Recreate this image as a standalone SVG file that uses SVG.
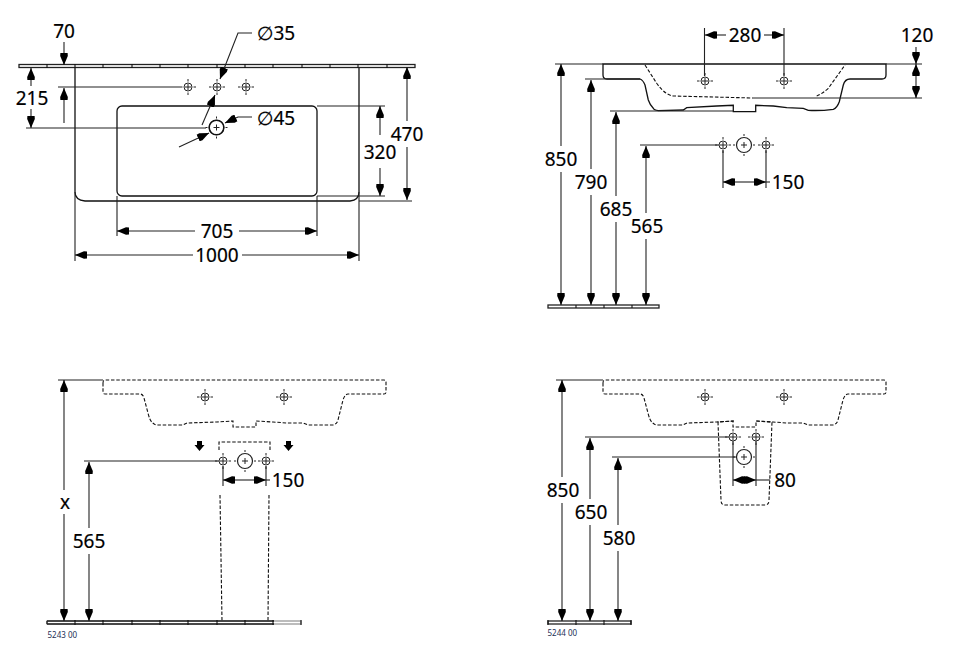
<svg xmlns="http://www.w3.org/2000/svg" width="966" height="657" viewBox="0 0 966 657">
<style>
text{font-family:"Noto Sans","DejaVu Sans",sans-serif;font-size:19px;fill:#000;text-anchor:middle;dominant-baseline:central;stroke:#000;stroke-width:.2}
.o{fill:none;stroke:#111;stroke-width:1.3}
.d{fill:none;stroke:#111;stroke-width:1.1;stroke-dasharray:3.5 1.8}
.l{fill:none;stroke:#222;stroke-width:1.1}
.a{fill:none;stroke:#222;stroke-width:1.1;marker-end:url(#ah)}
.s{fill:#fff;stroke:#222;stroke-width:1.3}
.t{fill:none;stroke:#111;stroke-width:1.1}
.h{fill:none;stroke:#222;stroke-width:1}
text.c{font-size:8px;fill:#1c2f55;stroke:none;text-anchor:start}
</style>
<defs>
<marker id="ah" markerUnits="userSpaceOnUse" markerWidth="14" markerHeight="10" refX="12" refY="5" orient="auto"><path d="M0 1.400L3 1.200L12 5L3 8.800L0 8.600Z" fill="#000"/></marker>
<g id="hs" class="h"><circle r="4"/><path d="M-8 0H-5.500M-3 0H3M5.500 0H8M0-8V-5.500M0-3V3M0 5.500V8"/></g>
<g id="hb" class="h"><circle r="7.500" stroke-width="1.200"/><path d="M-11 0H-9M-3 0H3M9 0H11M0-11V-9M0-3V3M0 9V11"/></g>
<path id="bowl" d="M103 383V392Q103 394 105 394H140Q143 394 144 398L148 413Q150 421 152 422Q154 425 157 425H183L187 423L217 422L233 421V427H256V421L273 422L287 423L303 423L308 425H333Q337 424 338 420L343 400Q345 394 348 394H384Q386 394 386 392V382Q386 380 384 380H105Q103 380 103 383Z"/>
</defs>
<g id="view-top">
<path class="o" d="M75 66V192Q75 200 85 201H350Q359 200 359 192V66"/>
<rect class="o" x="117" y="106" width="200" height="90" rx="5"/>
<rect class="s" x="19" y="64.500" width="396" height="3"/>
<path class="t" d="M47 64V68M75 64V68M103 64V68M132 64V68M160 64V68M188 64V68M217 64V68M245 64V68M273 64V68M302 64V68M330 64V68M358 64V68M387 64V68"/>
<use href="#hs" x="188" y="87"/><use href="#hs" x="217" y="87"/><use href="#hs" x="246" y="87"/>
<use href="#hb" x="216.500" y="127.500"/>
<circle class="o" cx="216.500" cy="127.500" r="7.200" stroke-width="1.600"/>
</g>
<g id="view-side">
<path class="o" d="M603 64H886V75Q886 79 882 79H850Q845 79 843.300 85L839.300 101.700Q837 108 833.300 109.300Q820 111 808.300 110.300L803.300 108.300L786.700 107.700L773.300 106L755.700 105.300V111.700H733.300V105.300L716.700 106L686.700 107.700L683.300 110L658.300 110.700Q654 110 653.300 108.300Q650 105 648.300 100L645 85Q643 80 640 79H607Q603 79 603 75Z"/>
<path class="d" d="M645 65L656.700 83.300Q665 95 673.300 96L753 98M816.700 96Q822 94 828.300 88.300L845 65"/>
<rect class="s" x="548" y="305" width="111" height="3"/>
<path class="t" d="M576 305V308M604 305V308M632 305V308"/>
<use href="#hs" x="705" y="81"/><use href="#hs" x="784" y="81"/>
<use href="#hs" x="723" y="145"/><use href="#hb" x="744" y="145"/><use href="#hs" x="766" y="145"/>
</g>
<g id="view-pedestal">
<use href="#bowl" class="d"/>
<path class="d" d="M219 450V442H270V450M220 495L222 621M269 495L268 621"/>
<path d="M197 441H202V445H204.500L199.500 451L194.500 445H197ZM286 441H291V445H293.500L288.500 451L283.500 445H286Z" fill="#000"/>
<rect class="s" x="47" y="621" width="254" height="3" style="stroke:#999"/>
<path class="s" d="M47 621H274M47 624H274M47 621V624" style="fill:none"/>
<path class="t" d="M75 620V625M103 620V625M132 620V625M160 620V625M188 620V625M217 620V625M245 620V625M273 620V625M301 620V625"/>
<use href="#hs" x="205" y="397"/><use href="#hs" x="284" y="397"/>
<use href="#hs" x="223" y="461"/><use href="#hb" x="245" y="461"/><use href="#hs" x="266" y="461"/>
<text class="c" x="47.500" y="634">5243 00</text>
</g>
<g id="view-semipedestal">
<use href="#bowl" class="d" x="500"/>
<path class="d" d="M734 421L718 422L721 500Q721 505 725 505H765Q769 505 769 500L772 422L756 421"/>
<rect class="s" x="548" y="621" width="83" height="3"/>
<path class="t" d="M576 620V625M604 620V625M631 620V625M548 620V625"/>
<use href="#hs" x="705" y="397"/><use href="#hs" x="784" y="397"/>
<use href="#hs" x="733" y="437"/><use href="#hs" x="756" y="437"/><use href="#hb" x="744" y="457"/>
<text class="c" x="547.500" y="632">5244 00</text>
</g>
<g id="connectors">
<path class="a" d="M64 42V65"/><path class="a" d="M64 123V88"/><path class="l" d="M58 87H180"/>
<path class="a" d="M31 86V68"/><path class="a" d="M31 109V128"/><path class="l" d="M26 128H206"/>
<path class="a" d="M252 33H238L220 79"/><path class="a" d="M202 125L215 95"/>
<path class="a" d="M252 117H238L225 123"/><path class="a" d="M179 147L209 133"/>
<path class="l" d="M317 106H385M317 196H385"/><path class="a" d="M380 135V106"/><path class="a" d="M380 168V196"/>
<path class="l" d="M359 201H412"/><path class="a" d="M407 121V67"/><path class="a" d="M407 147V200"/>
<path class="l" d="M117 196V236M317 196V236"/><path class="a" d="M195 231H117"/><path class="a" d="M239 231H317"/>
<path class="l" d="M75 192V261M359 192V261"/><path class="a" d="M193 255H75"/><path class="a" d="M242 255H359"/>
<path class="l" d="M704.500 28V76M784 28V76"/><path class="a" d="M726 35H705"/><path class="a" d="M764 35H784"/>
<path class="l" d="M555 64H603M886 64H922M753 98H922"/><path class="a" d="M916 47V64"/><path class="a" d="M916 81V64"/><path class="a" d="M916 81V98"/>
<path class="a" d="M561 146V64"/><path class="a" d="M561 172V305"/>
<path class="l" d="M585 79H640"/><path class="a" d="M591 169V80"/><path class="a" d="M591 195V305"/>
<path class="l" d="M610 111H733"/><path class="a" d="M616 196V112"/><path class="a" d="M616 222V305"/>
<path class="l" d="M640 145H719"/><path class="a" d="M646 213V146"/><path class="a" d="M646 239V305"/>
<path class="l" d="M723 150V188M766 150V188"/><path class="a" d="M745 182H723"/><path class="a" d="M745 182H766"/><path class="l" d="M766 182H770"/>
<path class="l" d="M58 380H103"/><path class="a" d="M64 490V380"/><path class="a" d="M64 514V621"/>
<path class="l" d="M84 461H219"/><path class="a" d="M89 528V462"/><path class="a" d="M89 554V621"/>
<path class="l" d="M223 466V486M266 466V486"/><path class="a" d="M245 480H223"/><path class="a" d="M245 480H266"/><path class="l" d="M266 480H270"/>
<path class="l" d="M556 380H603"/><path class="a" d="M562 477V380"/><path class="a" d="M562 503V621"/>
<path class="l" d="M585 437H729"/><path class="a" d="M590 499V438"/><path class="a" d="M590 525V621"/>
<path class="l" d="M612 457H736"/><path class="a" d="M618 525V458"/><path class="a" d="M618 551V621"/>
<path class="l" d="M733 441V486M756 441V486"/><path class="a" d="M745 480H733"/><path class="a" d="M744 480H756"/><path class="l" d="M756 480H770"/>
</g>
<g id="labels">
<text x="64" y="31">70</text><text x="32" y="98">215</text><text x="276" y="33">∅35</text><text x="276" y="118">∅45</text>
<text x="380" y="152">320</text><text x="407" y="134">470</text><text x="217" y="231">705</text><text x="217" y="255">1000</text>
<text x="745" y="35">280</text><text x="917" y="35">120</text><text x="561" y="159">850</text><text x="591" y="182">790</text><text x="616" y="209">685</text><text x="647" y="226">565</text><text x="788" y="182">150</text>
<text x="65" y="502">x</text><text x="89" y="541">565</text><text x="288" y="480">150</text>
<text x="563" y="490">850</text><text x="591" y="512">650</text><text x="619" y="538">580</text><text x="785" y="480">80</text>
</g>
</svg>
